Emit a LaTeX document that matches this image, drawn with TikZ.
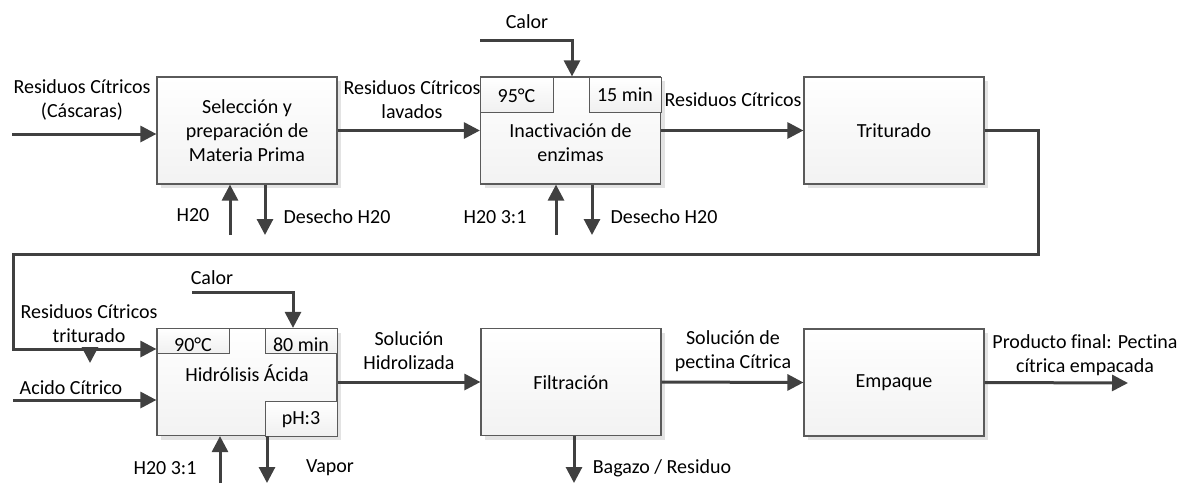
\documentclass[tikz,border=0pt]{standalone}
\usepackage{fontspec}
\setmainfont{Carlito}[Ligatures=NoCommon]
\usetikzlibrary{arrows.meta,shadows}
\definecolor{lineclr}{HTML}{404040}
\definecolor{edgeclr}{HTML}{5A5A5A}
\begin{document}
\begin{tikzpicture}[x=1pt,y=-1pt,
  every node/.style={font=\fontsize{20}{24}\selectfont, text=black},
  procbox/.style={draw=edgeclr, line width=1.2pt, top color=white, bottom color=gray!10,
    minimum width=180pt, minimum height=107pt, inner sep=0pt, align=center,
    drop shadow={shadow xshift=4pt, shadow yshift=-4pt, fill=gray!22, opacity=1}},
  tagbox/.style={draw=edgeclr, line width=1.2pt, top color=white, bottom color=gray!12,
    inner sep=0pt, anchor=north west},
  lbl/.style={align=center, inner sep=0pt},
  arr/.style={draw=lineclr, line width=3pt, -{Triangle[length=16pt,width=16pt]}},
  wire/.style={draw=lineclr, line width=3pt}]
\useasboundingbox (0,0) rectangle (1180,483);

% process boxes
\node[procbox] (b1) at (247,130.5) {};
\node[procbox] (b2) at (570.5,130.5) {};
\node[procbox] (b3) at (894,130.5) {};
\node[procbox] (b4) at (247,382) {};
\node[procbox] (b5) at (571,382) {};
\node[procbox] (b6) at (894,382.5) {};

% parameter tags inside boxes
\node[tagbox, minimum width=73pt, minimum height=35pt] (t95) at (480,77) {};
\node[tagbox, minimum width=72pt, minimum height=35pt] (t15) at (589,77) {};
\node[tagbox, minimum width=72pt, minimum height=25pt] (t90) at (157,328) {};
\node[tagbox, minimum width=72pt, minimum height=25pt] (t80) at (265,328) {};
\node[tagbox, minimum width=72pt, minimum height=35pt] (tph) at (265,401) {};

% box texts
\node[lbl] at (247,131) {Selección y\\preparación de\\Materia Prima};
\node[lbl] at (570.5,143) {Inactivación de\\enzimas};
\node[lbl] at (894,131) {Triturado};
\node[lbl] at (247,373) {Hidrólisis Ácida};
\node[lbl] at (571,383) {Filtración};
\node[lbl] at (894,383) {Empaque};
\node[lbl] at (516.5,96) {95°C};
\node[lbl] at (625,95) {15 min};
\node[lbl] at (193,345) {90°C};
\node[lbl] at (301,345) {80 min};
\node[lbl] at (301,420) {pH:3};

% free ends of the streams
\coordinate (in1) at (12,134);
\coordinate (cal1) at (480,40);
\coordinate (w1) at (230,235);
\coordinate (d1) at (265,235);
\coordinate (w2) at (556,235);
\coordinate (d2) at (592,235);
\coordinate (k1) at (1038,254);
\coordinate (k2) at (13,254);
\coordinate (k3) at (13,349);
\coordinate (s1) at (90,347);
\coordinate (s2) at (90,363);
\coordinate (cal2) at (192,292);
\coordinate (cal2e) at (293,292);
\coordinate (in4) at (13,400);
\coordinate (w4) at (220,483);
\coordinate (v4) at (267,483);
\coordinate (bg) at (574,483);
\coordinate (out) at (1128,383);

% streams
\draw[arr] (in1) -- (in1 -| b1.west);
\draw[arr] (b1.east) -- (b2.west);
\draw[arr] (cal1) -| (572,0 |- b2.north);
\draw[arr] (w1) -- (w1 |- b1.south);
\draw[arr] (d1 |- b1.south) -- (d1);
\draw[arr] (w2) -- (w2 |- b2.south);
\draw[arr] (d2 |- b2.south) -- (d2);
\draw[arr] (b2.east) -- (b3.west);
\draw[arr, line join=miter] (b3.east) -| (k1) -- (k2) -- (k3) -- (k3 -| b4.west);
\draw[arr] (s1) -- (s2);
\draw[arr] (cal2) -- (cal2e) -- (cal2e |- b4.north);
\draw[arr] (in4) -- (in4 -| b4.west);
\draw[arr] (b4.east) -- (b5.west);
\draw[arr] (w4) -- (w4 |- b4.south);
\draw[arr] (v4 |- b4.south) -- (v4);
\draw[arr] (bg |- b5.south) -- (bg);
\draw[arr] (b5.east) -- (b6.west);
\draw[arr] (b6.east) -- (out);

% stream labels
\node[lbl] at (82,100) {Residuos Cítricos\\(Cáscaras)};
\node[lbl] at (412,100) {Residuos Cítricos\\lavados};
\node[lbl] at (527,22) {Calor};
\node[lbl] at (193,215) {H20};
\node[lbl] at (337,217) {Desecho H20};
\node[lbl] at (495,217) {H20 3:1};
\node[lbl] at (664,217) {Desecho H20};
\node[lbl] at (733,100) {Residuos Cítricos};
\node[lbl] at (212,278) {Calor};
\node[lbl] at (89,324) {Residuos Cítricos\\triturado};
\node[lbl] at (71,388) {Acido Cítrico};
\node[lbl] at (409,351) {Solución\\Hidrolizada};
\node[lbl] at (165,468) {H20 3:1};
\node[lbl] at (330,468) {Vapor};
\node[lbl] at (733,351) {Solución de\\pectina Cítrica};
\node[lbl] at (662,468) {Bagazo / Residuo};
\node[lbl] at (1085,355) {Producto final: Pectina\\cítrica empacada};
\end{tikzpicture}
\end{document}
